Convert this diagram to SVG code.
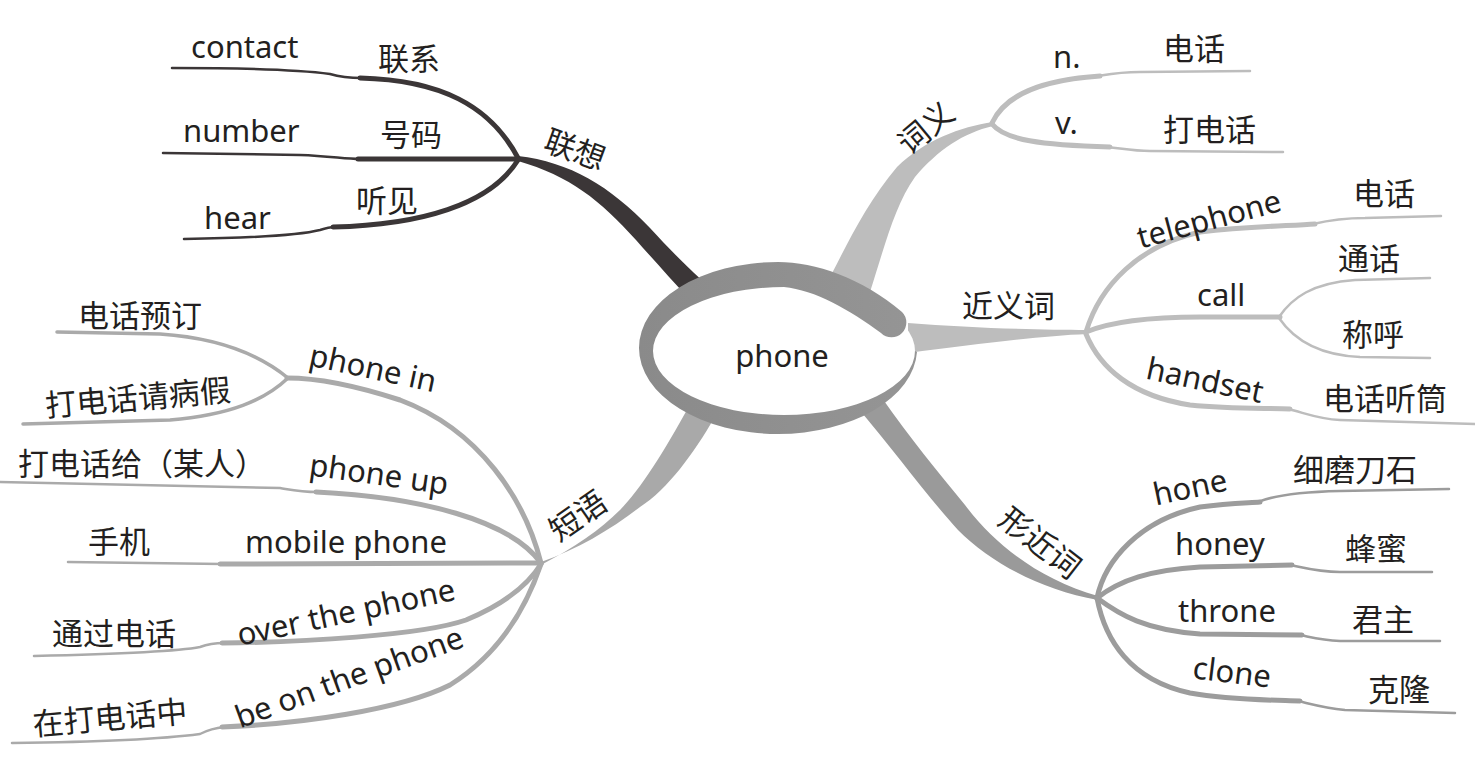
<svg xmlns="http://www.w3.org/2000/svg" width="1475" height="762" viewBox="0 0 1475 762">
<defs>
<style>
.t{font-family:"Noto Sans","Noto Sans CJK SC",sans-serif;font-size:31px;fill:#231f20}
.c{font-family:"Noto Sans","Noto Sans CJK SC",sans-serif;font-size:31px;fill:#231f20}
.ln{fill:none;stroke-linecap:round;stroke-linejoin:round}
.k{stroke-width:5}
.n{stroke-width:2.5}
.dk{stroke:#3b3637}
.lt{stroke:#bdbdbd}
.md{stroke:#9c9c9c}
.ph{stroke:#aaaaaa}
</style>
<linearGradient id="ringGrad" x1="0" y1="0" x2="1" y2="0">
<stop offset="0" stop-color="#8a8a8a"/>
<stop offset="1" stop-color="#959595"/>
</linearGradient>
</defs>
<rect width="1475" height="762" fill="#ffffff"/>
<g id="connectors">
<path fill="#3b3637" d="M 518 156 C 570 162, 610 186, 650 228 C 672 252, 692 272, 713 290 L 690 300 C 670 278, 652 258, 636 240 C 600 200, 570 176, 518 161 Z"/>
<path fill="#bdbdbd" d="M 822 292 C 840 260, 862 208, 897 167 C 925 140, 960 127, 993 122 L 993 126 C 963 133, 938 150, 915 177 C 895 205, 885 245, 870 292 Z"/>
<path fill="#bdbdbd" d="M 908 323 C 970 328, 1040 330, 1087 330 L 1087 334 C 1040 336, 975 344, 908 353 Z"/>
<path fill="#9a9a9a" d="M 882 398 C 910 438, 938 472, 965 505 C 995 545, 1040 580, 1098 596 L 1098 600 C 1040 590, 990 562, 958 530 C 928 497, 895 452, 858 408 Z"/>
<path fill="#a9a9a9" d="M 714 418 C 695 452, 667 490, 640 507 C 610 530, 578 549, 541 562 L 541 565 C 575 547, 600 530, 620 510 C 640 490, 665 450, 688 408 Z"/>
<path class="ln dk n" d="M 172 68 C 250 68, 300 70, 330 74 C 340 77, 350 78, 362 78"/>
<path class="ln dk k" d="M 360 78 C 440 80, 490 105, 518 158"/>
<path class="ln dk n" d="M 163 153 L 300 155 C 330 156, 345 159, 360 159"/>
<path class="ln dk k" d="M 358 159 L 518 159"/>
<path class="ln dk n" d="M 184 239 C 250 238, 300 235, 320 230 C 326 228, 330 227, 335 227"/>
<path class="ln dk k" d="M 333 227 C 420 225, 490 205, 518 160"/>
<path class="ln lt k" d="M 992 123 C 1005 95, 1040 80, 1100 76"/>
<path class="ln lt n" d="M 1098 76 C 1110 74, 1120 72, 1140 72 L 1250 71"/>
<path class="ln lt k" d="M 992 124 C 1005 140, 1040 145, 1110 147"/>
<path class="ln lt n" d="M 1108 147 C 1125 149, 1135 151, 1150 151 L 1283 152"/>
<path class="ln lt k" d="M 1086 332 C 1100 285, 1140 245, 1200 232 C 1250 226, 1290 226, 1315 224"/>
<path class="ln lt n" d="M 1313 224 C 1330 220, 1345 218, 1365 218 L 1441 216"/>
<path class="ln lt k" d="M 1086 332 C 1110 322, 1150 317, 1200 317 L 1280 317"/>
<path class="ln lt n" d="M 1279 317 C 1292 298, 1312 283, 1355 280 L 1430 278"/>
<path class="ln lt n" d="M 1279 318 C 1292 337, 1315 355, 1360 357 L 1430 358"/>
<path class="ln lt k" d="M 1086 334 C 1100 368, 1132 396, 1190 405 C 1230 409, 1265 408, 1290 409"/>
<path class="ln lt n" d="M 1288 409 C 1305 413, 1318 419, 1340 420 L 1475 424"/>
<path class="ln md k" d="M 1097 598 C 1105 560, 1140 520, 1200 507 C 1230 503, 1248 503, 1260 502"/>
<path class="ln md n" d="M 1258 502 C 1272 496, 1300 492, 1340 491 L 1449 489"/>
<path class="ln md k" d="M 1097 598 C 1120 580, 1150 570, 1200 567 L 1292 565"/>
<path class="ln md n" d="M 1290 565 C 1305 568, 1318 572, 1340 572 L 1432 572"/>
<path class="ln md k" d="M 1097 598 C 1120 615, 1145 630, 1200 634 L 1302 635"/>
<path class="ln md n" d="M 1300 635 C 1315 638, 1322 640, 1340 641 L 1440 641"/>
<path class="ln md k" d="M 1097 598 C 1105 640, 1130 680, 1190 693 C 1230 700, 1270 700, 1300 701"/>
<path class="ln md n" d="M 1298 701 C 1315 705, 1325 708, 1345 710 L 1455 713"/>
<path class="ln ph k" d="M 541 563 C 525 500, 480 430, 400 400 C 360 387, 320 378, 287 378"/>
<path class="ln ph" stroke-width="3.5" d="M 288 378 C 260 355, 220 338, 160 334 L 57 332"/>
<path class="ln ph" stroke-width="3.5" d="M 288 378 C 265 400, 230 415, 170 420 L 23 424"/>
<path class="ln ph n" d="M 0 482 L 280 488 C 292 490, 300 492, 318 492"/>
<path class="ln ph k" d="M 316 492 C 420 497, 510 520, 541 563"/>
<path class="ln ph n" d="M 68 562 L 222 564"/>
<path class="ln ph k" d="M 220 564 L 541 563"/>
<path class="ln ph n" d="M 34 656 C 120 654, 180 651, 200 647 C 208 644, 214 643, 224 643"/>
<path class="ln ph k" d="M 222 643 C 300 642, 420 636, 466 620 C 500 606, 526 588, 541 564"/>
<path class="ln ph n" d="M 12 743 C 100 742, 170 738, 200 734 C 208 730, 214 728, 224 727"/>
<path class="ln ph k" d="M 222 727 C 300 724, 400 710, 450 685 C 490 660, 522 620, 541 564"/>
</g>
<g id="node-phone">
<ellipse cx="784" cy="351" rx="131" ry="64" fill="#ffffff"/>
<path fill="url(#ringGrad)" d="M 917 352 A 139 86 0 0 1 778 434 A 139 86 0 0 1 639 348 A 139 86 0 0 1 778 262 C 815 262, 862 278, 902 312 A 14 14 0 0 1 881 333 C 850 310, 815 290, 784 287 A 131 64 0 0 0 653 351 A 131 64 0 0 0 784 415 A 131 64 0 0 0 915 351 Z"/>
<text class="t" x="782" y="367" text-anchor="middle" font-size="30">phone</text>
</g>
<g id="node-lianxiang"><text class="c" text-anchor="middle" transform="translate(575 150) rotate(20)" y="11">联想</text></g>
<g id="node-contact"><text class="t" x="191" y="58">contact</text></g>
<g id="node-lianxi"><text class="c" x="378" y="70">联系</text></g>
<g id="node-number"><text class="t" x="183" y="142">number</text></g>
<g id="node-haoma"><text class="c" x="380" y="146">号码</text></g>
<g id="node-hear"><text class="t" x="204" y="229">hear</text></g>
<g id="node-tingjian"><text class="c" x="356" y="212">听见</text></g>
<g id="node-ciyi"><text class="c" text-anchor="middle" transform="translate(926 128) rotate(-40)" y="11">词义</text></g>
<g id="node-n"><text class="t" x="1053" y="68">n.</text></g>
<g id="node-dianhua1"><text class="c" x="1163" y="60">电话</text></g>
<g id="node-v"><text class="t" x="1055" y="134">v.</text></g>
<g id="node-dadianhua"><text class="c" x="1163" y="141">打电话</text></g>
<g id="node-jinyici"><text class="c" x="962" y="317">近义词</text></g>
<g id="node-telephone"><text class="t" text-anchor="middle" transform="translate(1209 219) rotate(-15)" y="11">telephone</text></g>
<g id="node-dianhua2"><text class="c" x="1353" y="205">电话</text></g>
<g id="node-call"><text class="t" x="1197" y="306">call</text></g>
<g id="node-tonghua"><text class="c" x="1338" y="270">通话</text></g>
<g id="node-chenghu"><text class="c" x="1342" y="346">称呼</text></g>
<g id="node-handset"><text class="t" text-anchor="middle" transform="translate(1205 380) rotate(12)" y="11">handset</text></g>
<g id="node-tingtong"><text class="c" x="1323" y="410">电话听筒</text></g>
<g id="node-xingjinci"><text class="c" text-anchor="middle" transform="translate(1040 543) rotate(38)" y="11">形近词</text></g>
<g id="node-hone"><text class="t" text-anchor="middle" transform="translate(1190 487) rotate(-12)" y="11">hone</text></g>
<g id="node-ximodaoshi"><text class="c" x="1293" y="481">细磨刀石</text></g>
<g id="node-honey"><text class="t" x="1175" y="555">honey</text></g>
<g id="node-fengmi"><text class="c" x="1345" y="560">蜂蜜</text></g>
<g id="node-throne"><text class="t" x="1178" y="622">throne</text></g>
<g id="node-junzhu"><text class="c" x="1352" y="631">君主</text></g>
<g id="node-clone"><text class="t" text-anchor="middle" transform="translate(1232 672) rotate(7)" y="11">clone</text></g>
<g id="node-kelong"><text class="c" x="1368" y="701">克隆</text></g>
<g id="node-duanyu"><text class="c" text-anchor="middle" transform="translate(578 516) rotate(-35)" y="11">短语</text></g>
<g id="node-phonein"><text class="t" text-anchor="middle" transform="translate(373 368) rotate(12)" y="11">phone in</text></g>
<g id="node-yuding"><text class="c" x="78" y="327">电话预订</text></g>
<g id="node-bingjia"><text class="c" text-anchor="middle" transform="translate(138 398) rotate(-5)" y="11">打电话请病假</text></g>
<g id="node-phoneup"><text class="t" text-anchor="middle" transform="translate(379 474) rotate(8)" y="11">phone up</text></g>
<g id="node-dagei"><text class="c" x="18" y="475">打电话给（某人）</text></g>
<g id="node-mobile"><text class="t" x="245" y="553">mobile phone</text></g>
<g id="node-shouji"><text class="c" x="88" y="553">手机</text></g>
<g id="node-over"><text class="t" text-anchor="middle" transform="translate(346 612) rotate(-12)" y="11">over the phone</text></g>
<g id="node-tongguo"><text class="c" x="52" y="645">通过电话</text></g>
<g id="node-beon"><text class="t" text-anchor="middle" transform="translate(349 677) rotate(-20)" y="11">be on the phone</text></g>
<g id="node-zaida"><text class="c" text-anchor="middle" transform="translate(110 718) rotate(-5)" y="11">在打电话中</text></g>
</svg>
